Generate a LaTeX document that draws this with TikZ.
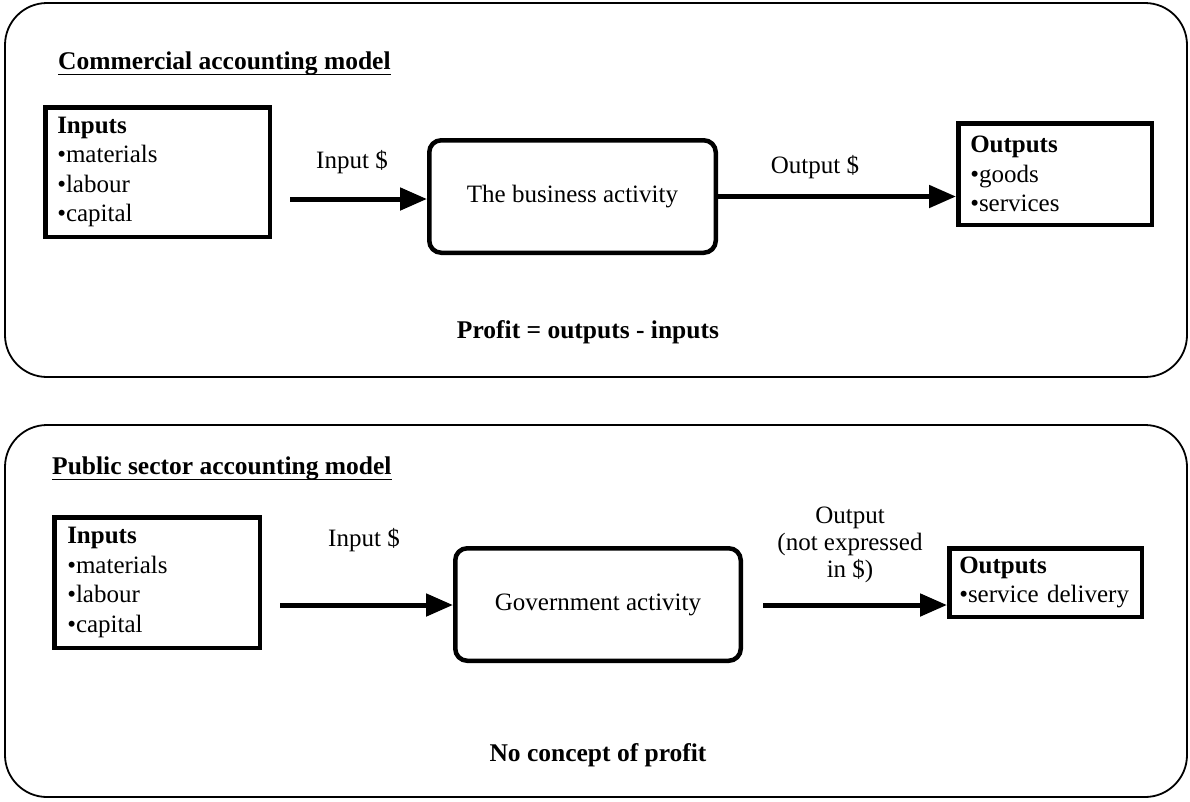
\documentclass[tikz,border=0pt]{standalone}
\usepackage{fontspec}
\setmainfont{Liberation Serif}
\usetikzlibrary{arrows.meta}

\tikzset{
  txt/.style={font=\fontsize{25}{29.5}\selectfont, inner sep=0pt},
  boldtxt/.style={inner sep=0pt, font=\fontsize{25.5}{29.5}\selectfont\bfseries},
  heading/.style={boldtxt, anchor=west},
  panel/.style={draw, line width=1.8pt, rounded corners=42pt},
  listbox/.style={draw, line width=4.5pt, txt, align=left, inner xsep=12pt},
  activity/.style={draw, line width=4.5pt, rounded corners=12pt, txt, align=center},
  flow/.style={line width=5pt, -{Triangle[length=27pt,width=22pt]}},
  ulined/.style={line width=1.8pt}
}

\begin{document}
\begin{tikzpicture}[x=1pt, y=-1pt]
  \useasboundingbox (0,0) rectangle (1190,801);

  % ---------- commercial model ----------
  \draw[panel] (5,3) rectangle (1187,377);
  \node[heading] (t1) at (58,63) {Commercial accounting model};
  \draw[ulined] ([yshift=-5.5pt]t1.base west) -- ([yshift=-5.5pt]t1.base east);

  \node[listbox, minimum width=224.5pt, minimum height=129.5pt,
        text width=200.5pt] (in1) at (157.5,172)
    {\textbf{Inputs}\\\textbullet materials\\\textbullet labour\\\textbullet capital};

  \node[activity, minimum width=286.5pt, minimum height=112.5pt] (act1)
    at (572.5,196.5) {The business activity};

  \node[listbox, minimum width=193.5pt, minimum height=101.5pt,
        text width=169.5pt] (out1) at (1055,174)
    {\textbf{Outputs}\\\textbullet goods\\\textbullet services};

  \coordinate (s1) at (290,199);
  \draw[flow] (s1) -- (s1 -| act1.west);
  \draw[flow] (act1.east) -- (act1.east -| out1.west);

  \node[txt] (l1) at (352,162) {Input \$};
  \node[txt] (l2) at (815,167) {Output \$};
  \node[boldtxt] (p1) at (588,332) {Profit = outputs - inputs};

  % ---------- public sector model ----------
  \draw[panel] (5,425) rectangle (1187,797);
  \node[heading] (t2) at (52,468) {Public sector accounting model};
  \draw[ulined] ([yshift=-5.5pt]t2.base west) -- ([yshift=-5.5pt]t2.base east);

  \node[listbox, minimum width=205.5pt, minimum height=130.5pt,
        text width=179.5pt, inner xsep=13pt] (in2) at (157,582.5)
    {\textbf{Inputs}\\\textbullet materials\\\textbullet labour\\\textbullet capital};

  \node[activity, minimum width=285.5pt, minimum height=112.5pt] (act2)
    at (598,604.5) {Government activity};

  \node[listbox, minimum width=192.5pt, minimum height=68.5pt,
        text width=172.5pt, inner xsep=10pt] (out2) at (1045.5,582.5)
    {\textbf{Outputs}\\\textbullet service delivery};

  \coordinate (s3) at (280,605);
  \coordinate (s4) at (763,605);
  \draw[flow] (s3) -- (s3 -| act2.west);
  \draw[flow] (s4) -- (s4 -| out2.west);

  \node[txt] (l3) at (364,540) {Input \$};
  \node[txt, align=center, font=\fontsize{25}{27}\selectfont] (l4) at (850,545)
    {Output\\(not expressed\\in \$)};
  \node[boldtxt] (p2) at (598,755) {No concept of profit};
\end{tikzpicture}
\end{document}
